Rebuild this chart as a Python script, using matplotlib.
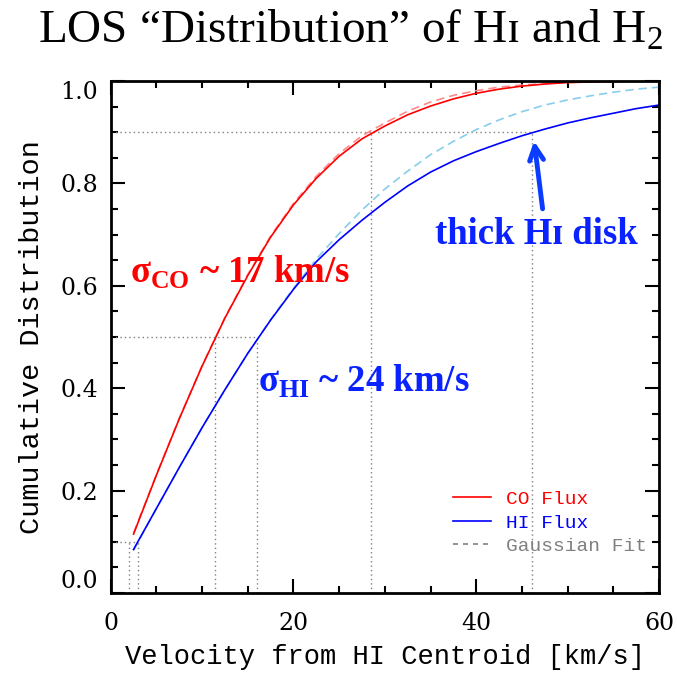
import matplotlib.pyplot as plt
import numpy as np

plt.rcParams['mathtext.fontset'] = 'custom'
plt.rcParams['mathtext.rm'] = 'Liberation Serif'
plt.rcParams['mathtext.bf'] = 'Liberation Serif:bold'

# velocity grid [km/s] and cumulative distributions
vel = [2.5, 5, 7.5, 10, 12.5, 15, 17.5, 20, 22.5, 25, 27.5, 30, 32.5, 35,
       37.5, 40, 42.5, 45, 47.5, 50, 52.5, 55, 57.5, 60]
co_flux = [0.115, 0.230, 0.340, 0.443, 0.537, 0.620, 0.695, 0.758, 0.810, 0.853,
           0.887, 0.912, 0.934, 0.951, 0.965, 0.976, 0.984, 0.990, 0.994, 0.997,
           0.998, 0.999, 1.000, 1.000]
co_fit = [0.117, 0.231, 0.341, 0.444, 0.538, 0.622, 0.697, 0.761, 0.814, 0.858,
          0.893, 0.918, 0.941, 0.959, 0.972, 0.981, 0.988, 0.992, 0.995, 0.997,
          0.998, 0.999, 1.000, 1.000]
hi_flux = [0.085, 0.165, 0.245, 0.323, 0.397, 0.468, 0.533, 0.593, 0.647, 0.690,
           0.728, 0.763, 0.795, 0.822, 0.844, 0.862, 0.878, 0.893, 0.906, 0.918,
           0.928, 0.937, 0.946, 0.953]
hi_fit = [0.083, 0.165, 0.245, 0.323, 0.397, 0.468, 0.534, 0.595, 0.652, 0.702,
          0.748, 0.789, 0.824, 0.856, 0.882, 0.905, 0.924, 0.940, 0.953, 0.963,
          0.971, 0.978, 0.984, 0.988]

# reference levels: (cumulative level, CO velocity, HI velocity)
levels = [0.1, 0.5, 0.9]
v_co = [2.0, 11.4, 28.5]
v_hi = [3.0, 16.0, 46.1]

red = '#ff0000'
blue = '#0000ff'
txtblue = '#0a22ff'
dotcol = '#808080'
tick_font = 'DejaVu Serif'
lab_font = 'Liberation Mono'
serif = ['Liberation Serif', 'DejaVu Serif']

fig = plt.figure(figsize=(6.77, 6.76), dpi=100)
ax = fig.add_axes([0.1635, 0.1228, 0.8099, 0.7574])

# dotted guide lines
for lev, a, b in zip(levels, v_co, v_hi):
    ax.plot([0, b], [lev, lev], color=dotcol, lw=1, ls=(0, (1, 2.2)))
    ax.plot([a, a], [0, lev], color=dotcol, lw=1, ls=(0, (1, 2.2)))
    ax.plot([b, b], [0, lev], color=dotcol, lw=1, ls=(0, (1, 2.2)))

ax.plot(vel, co_fit, color='#ff8a8a', lw=1.2, ls=(0, (5, 3)))
ax.plot(vel, co_flux, color=red, lw=1.2, label='CO Flux')
ax.plot(vel, hi_fit, color='#87ceeb', lw=1.2, ls=(0, (5, 3)))
ax.plot(vel, hi_flux, color=blue, lw=1.2, label='HI Flux')
ax.plot([], [], color=dotcol, lw=1.2, ls=(0, (3, 3)), label='Gaussian Fit')

ax.set_xlim(0, 60)
ax.set_ylim(0, 1.0)
ax.set_xticks([0, 20, 40, 60])
ax.set_xticks(np.arange(0, 61, 5), minor=True)
ax.set_yticks(np.arange(0, 1.01, 0.2))
ax.set_yticks(np.arange(0, 1.01, 0.05), minor=True)
ax.set_yticklabels(['%.1f' % v for v in np.arange(0, 1.01, 0.2)])
ax.tick_params(which='both', direction='in', top=True, right=True, width=1.5)
ax.tick_params(which='major', length=10)
ax.tick_params(which='minor', length=5)
ax.tick_params(axis='x', pad=14)
ax.tick_params(axis='y', pad=9)
for lbl in ax.get_xticklabels() + ax.get_yticklabels():
    lbl.set_fontfamily(tick_font)
    lbl.set_fontsize(17)
ylbls = ax.get_yticklabels()
ylbls[0].set_va('bottom')
ylbls[-1].set_va('top')
for sp in ax.spines.values():
    sp.set_linewidth(2)

ax.set_xlabel('Velocity from HI Centroid [km/s]', fontfamily=lab_font, fontsize=19.5, labelpad=6)
ax.set_ylabel('Cumulative Distribution', fontfamily=lab_font, fontsize=20.5, labelpad=11)

leg = ax.legend(loc='lower right', bbox_to_anchor=(1.01, 0.04), frameon=False,
                prop={'family': lab_font, 'size': 14}, handlelength=2.0,
                handletextpad=0.75, labelspacing=0.3)
for t, c in zip(leg.get_texts(), [red, blue, dotcol]):
    t.set_color(c)

# annotations
ax.text(2.1, 0.627, r'σ$_\mathbf{CO}$ ~ 17 km/s', color=red, fontsize=26.5,
        fontweight='bold', fontfamily=serif, va='center')
ax.text(16.1, 0.414, r'σ$_\mathbf{HI}$ ~ 24 km/s', color=txtblue, fontsize=26.5,
        fontweight='bold', fontfamily=serif, va='center')
ax.text(35.5, 0.70, 'thick Hɪ disk', color=txtblue, fontsize=26.5,
        fontweight='bold', fontfamily=serif, va='center')
ax.annotate('', xy=(46.3, 0.888), xytext=(47.3, 0.745),
            arrowprops=dict(arrowstyle='->,head_length=1.0,head_width=0.5',
                            color='#0a3cff', lw=3.5))

fig.text(0.517, 0.955, 'LOS “Distribution” of Hɪ and H$_2$', ha='center', va='center',
         fontsize=34, fontfamily=serif)

fig.savefig('out.png', dpi=100)
